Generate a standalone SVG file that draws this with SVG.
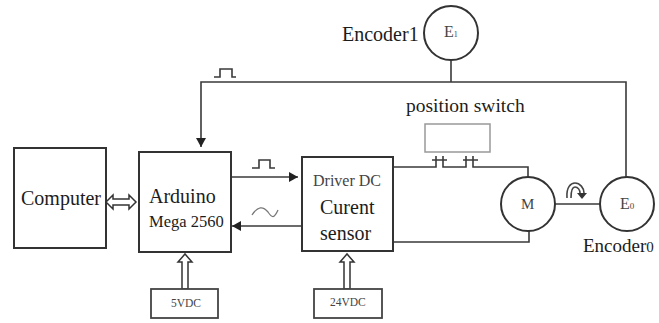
<svg xmlns="http://www.w3.org/2000/svg" width="659" height="323" viewBox="0 0 659 323">
<defs>
<marker id="ah" markerWidth="12" markerHeight="12" refX="10" refY="6" orient="auto" markerUnits="userSpaceOnUse"><path d="M1,1 L10,6 L1,11 Z" fill="#222"/></marker>
</defs>
<style>
text{font-family:"Liberation Serif","Times New Roman",serif;fill:#1c1c1c}
.box{fill:#fff;stroke:#333;stroke-width:2}
.thin{fill:#fff;stroke:#444;stroke-width:1.8}
.w{fill:none;stroke:#3a3a3a;stroke-width:1.6}
.c{fill:#fff;stroke:#333;stroke-width:2}
.dbl{fill:#fff;stroke:#333;stroke-width:1.5}
</style>
<rect width="659" height="323" fill="#fff"/>
<g id="connectors">
<path class="w" d="M451,60 V82 M626,177 V82 H201 V147" marker-end="url(#ah)"/>
<path class="w" d="M232,177 H298" marker-end="url(#ah)"/>
<path class="w" d="M302,226 H232" marker-end="url(#ah)"/>
<path class="w" d="M394,167 H436 V156 M443,156 V167 H466 V156 M473,156 V167 H528 V177"/>
<path class="w" d="M432,160 H447 M463,160 H478"/>
<path class="w" d="M394,242 H529 V231"/>
<path class="w" d="M555,204 H600"/>
<path class="w" d="M252,168 H259 V160 H270 V168 H275"/>
<path class="w" d="M214,77 H220 V69 H232 V77 H236"/>
<path d="M252,215 C258,206 263,206 268,212 C272,218 274,219 278,210" fill="none" stroke="#777" stroke-width="1.3"/>
<path class="dbl" d="M106,202 L113,195 V199 H129 V195 L136,202 L129,209 V205 H113 V209 Z"/>
<path class="dbl" d="M182,289 V262 H178 L185,254 L192,262 H188 V289 Z"/>
<path class="dbl" d="M344,289 V262 H340 L347,254 L354,262 H350 V289 Z"/>
<path d="M567,198 C566,187 571,183 575,183 C580,183 584,188 584,193 M571,198 C571,190 573,187 575,187 C578,187 580,190 580,193" fill="none" stroke="#444" stroke-width="1.6"/>
<path d="M577,193 H587 L582,199 Z" fill="#333"/>
</g>
<g id="computer"><rect class="box" x="14" y="148" width="92" height="100"/><text x="21" y="205" font-size="20">Computer</text></g>
<g id="arduino"><rect class="box" x="139" y="152" width="92" height="100"/><text x="149" y="203" font-size="20">Arduino</text><text x="149" y="227" font-size="16.5">Mega 2560</text></g>
<g id="driver"><rect class="box" x="302" y="157" width="91" height="94"/><text x="313" y="186" font-size="16" style="fill:#444">Driver DC</text><text x="320" y="214" font-size="20">Curent</text><text x="320" y="240" font-size="20">sensor</text></g>
<g id="supply5"><rect class="thin" x="151" y="289" width="67" height="29"/><text x="171" y="307" font-size="11.5" style="fill:#444">5VDC</text></g>
<g id="supply24"><rect class="thin" x="314" y="289" width="68" height="29"/><text x="330" y="306" font-size="11.5" style="fill:#444">24VDC</text></g>
<g id="switch"><text x="406" y="112" font-size="19.5">position switch</text><rect x="425" y="124" width="65" height="28" fill="#fff" stroke="#999" stroke-width="1.5"/></g>
<g id="motor"><circle class="c" cx="528" cy="204" r="27"/><text x="521" y="209" font-size="15" style="fill:#444">M</text></g>
<g id="encoder0"><circle class="c" cx="627" cy="204" r="27"/><text x="620" y="209" font-size="16" style="fill:#444">E<tspan font-size="9">0</tspan></text><text x="583" y="252" font-size="19">Encoder<tspan font-size="15">0</tspan></text></g>
<g id="encoder1"><circle class="c" cx="451" cy="33" r="27"/><text x="444" y="37" font-size="16" style="fill:#444">E<tspan font-size="8">1</tspan></text><text x="342" y="41" font-size="20">Encoder1</text></g>
</svg>
